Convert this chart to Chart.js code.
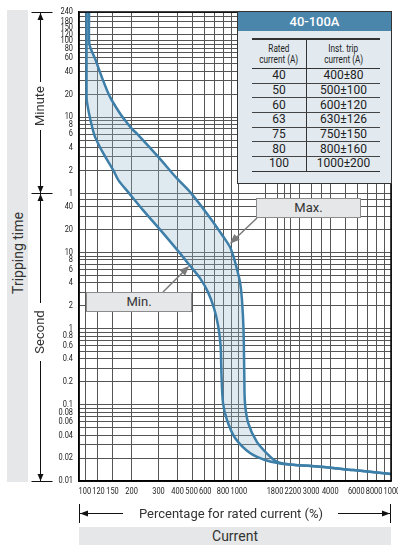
<!DOCTYPE html>
<html>
<head>
<meta charset="utf-8">
<script src="https://cdn.jsdelivr.net/npm/chart.js@4.4.1/dist/chart.umd.min.js"></script>
<style>
  html, body { margin:0; padding:0; background:#fff; }
  body { width:398px; height:545px; position:relative; overflow:hidden;
         font-family: Roboto, 'Open Sans', 'DejaVu Sans', sans-serif; color:#333; }
  #chart { position:absolute; left:0; top:0; }
  #deco { position:absolute; left:0; top:0; }
  .band { position:absolute; background:#e6e7e8; }
  .rot { position:absolute; transform:rotate(-90deg); text-align:center; white-space:nowrap; }
  .lbl { position:absolute; text-align:center; white-space:nowrap; }
  #tbox { position:absolute; left:237px; top:11px; width:155px; height:173px; box-sizing:border-box;
          background:#e2eaf0; border:1.5px solid #333; }
  #thead { position:absolute; left:0; top:0; right:0; height:19px; background:#4a86ab; color:#fff;
           font-size:13px; line-height:19px; text-align:center; font-weight:500; }
  #tt { position:absolute; left:14px; top:26px; width:128px; border-collapse:collapse; color:#222;
        font-family: Roboto, sans-serif; }
  #tt th, #tt td { padding:0; text-align:center; }
  #tt thead tr { border-top:2px solid #333; border-bottom:1.5px solid #333; }
  #tt th { font-weight:normal; font-size:10px; line-height:11px; height:28px; }
  #tt th span { display:inline-block; transform:scaleX(0.82); white-space:nowrap; }
  #tt td { font-size:12px; height:13.7px; line-height:13px; border-bottom:1px solid #444; }
  #tt tbody tr:last-child td { border-bottom:1.5px solid #333; }
  #tt .c1 { width:54px; border-right:1px solid #333; }
  .tag { position:absolute; box-sizing:border-box; background:#e6e7e8; border:1px solid #8c8c8c;
         font-size:13px; line-height:17px; text-align:center; color:#333; }
</style>
</head>
<body>
<canvas id="chart" width="398" height="545"></canvas>

<div class="band" style="left:7px;top:10px;width:21px;height:472px;"></div>
<div class="rot" style="left:-42px;top:244px;width:120px;height:18px;line-height:18px;font-size:14px;">Tripping time</div>

<svg id="deco" width="398" height="545">
  <g stroke="#111" stroke-width="1" fill="none">
    <line x1="31.5" y1="12.5" x2="52.5" y2="12.5"/>
    <line x1="31.5" y1="193.5" x2="52.5" y2="193.5"/>
    <line x1="31.5" y1="481.5" x2="52.5" y2="481.5"/>
    <line x1="40.5" y1="13" x2="40.5" y2="82"/>
    <line x1="40.5" y1="130" x2="40.5" y2="193"/>
    <line x1="40.5" y1="194" x2="40.5" y2="303"/>
    <line x1="40.5" y1="361" x2="40.5" y2="481"/>
    <line x1="79.5" y1="504" x2="79.5" y2="523"/>
    <line x1="390.5" y1="504" x2="390.5" y2="523"/>
    <line x1="80" y1="513.5" x2="123" y2="513.5"/>
    <line x1="338" y1="513.5" x2="390" y2="513.5"/>
  </g>
  <g fill="#111">
    <polygon points="40.5,13 37.5,20 43.5,20"/>
    <polygon points="40.5,193 37.5,186 43.5,186"/>
    <polygon points="40.5,194 37.5,201 43.5,201"/>
    <polygon points="40.5,481 37.5,474 43.5,474"/>
    <polygon points="80,513.5 88,510.5 88,516.5"/>
    <polygon points="390,513.5 382,510.5 382,516.5"/>
  </g>
</svg>

<div class="rot" style="left:10px;top:97px;width:60px;height:18px;line-height:18px;font-size:13px;">Minute</div>
<div class="rot" style="left:10px;top:323px;width:60px;height:18px;line-height:18px;font-size:13px;">Second</div>

<div class="lbl" style="left:120px;top:505px;width:222px;height:17px;line-height:17px;font-size:13px;">Percentage for rated current (%)</div>
<div class="band" style="left:79px;top:527px;width:312px;height:18px;"></div>
<div class="lbl" style="left:79px;top:527px;width:312px;height:18px;line-height:19px;font-size:14px;">Current</div>

<div id="tbox">
  <div id="thead">40-100A</div>
  <table id="tt">
    <thead><tr><th class="c1"><span>Rated</span><br><span>current (A)</span></th><th><span>Inst. trip</span><br><span>current (A)</span></th></tr></thead>
    <tbody id="tbody"></tbody>
  </table>
</div>

<div class="tag" id="maxTag" style="left:256px;top:198px;width:105px;height:20px;">Max.</div>
<div class="tag" id="minTag" style="left:86px;top:292px;width:106px;height:20px;">Min.</div>

<script>
// ---------------- data ----------------
// x axis: percentage of rated current (log); y axis: tripping time in seconds (log)
const xGridPercent = [100,120,150,200,300,400,500,600,700,800,900,1000,1500,1800,2000,2200,2500,3000,3500,4000,5000,6000,7000,8000,9000,10000];
const xTickLabels  = [100,120,150,200,300,400,500,600,800,1000,1800,2200,3000,4000,6000,8000,10000];

const secondGrid = [0.01,0.02,0.03,0.04,0.05,0.06,0.07,0.08,0.09,0.1,0.2,0.3,0.4,0.5,0.6,0.7,0.8,0.9,1,2,3,4,5,6,7,8,9,10,20,30,40,50];
const minuteGrid = [1,2,3,4,5,6,7,8,9,10,20,30,40,50,60,70,80,90,100,120,150,180,210,240];
const secondTickLabels = [0.01,0.02,0.04,0.06,0.08,0.1,0.2,0.4,0.6,0.8,1,2,4,6,8,10,20,40];
const minuteTickLabels = [1,2,4,6,8,10,20,40,60,80,100,120,150,180,240];

// "Max." curve (upper / right boundary)
const maxCurvePercent = [105.3,105.3,106.9,115.2,127.5,144.4,168,181,200,216,299,395,490,663,798,882,937,976,1026,1057,1082,1095,1106,1163,1320,1535,1784,2181,3428,5664,10000];
const maxCurveSeconds = [14400,6124,5006,3525,2023,1105,669,546,425,366,180,94.7,60.2,27.4,16.1,11.8,8.44,6.24,4.09,2.37,0.958,0.234,0.1046,0.0572,0.0328,0.0231,0.0179,0.01646,0.0154,0.0139,0.0124];

// "Min." curve (lower / left boundary)
const minCurvePercent = [101.4,101.4,101.7,105.3,109.6,115.2,130.6,151.8,163.8,192.4,237.6,309.4,409,483,561,633,693,736,765,776,794,843,952,1193,1496,1876,2181,3428,5664,10000];
const minCurveSeconds = [14400,1352,1000,669,470,330,200,120.6,89.2,60.2,36.0,19.7,10.12,6.69,4.61,3.02,1.86,1.115,0.609,0.246,0.1056,0.0632,0.0367,0.0233,0.0189,0.0170,0.01646,0.0154,0.0139,0.0124];

// arrow targets of the Max./Min. labels [percent, seconds]
const maxArrowTarget = [880, 13];
const minArrowTarget = [478, 6.7];

// table 40-100A
const ratedCurrentA = [40,50,60,63,75,80,100];
const instTripA     = [400,500,600,630,750,800,1000];
const instTripTolA  = [80,100,120,126,150,160,200];

// ---------------- table ----------------
const tb = document.getElementById('tbody');
ratedCurrentA.forEach((r, i) => {
  const tr = document.createElement('tr');
  const a = document.createElement('td'); a.className = 'c1'; a.textContent = String(r);
  const b = document.createElement('td'); b.textContent = instTripA[i] + '\u00b1' + instTripTolA[i];
  tr.appendChild(a); tr.appendChild(b); tb.appendChild(tr);
});

// ---------------- chart ----------------
const toPts = (xs, ys) => xs.map((x, i) => ({x: x, y: ys[i]}));
const maxPts = toPts(maxCurvePercent, maxCurveSeconds);
const minPts = toPts(minCurvePercent, minCurveSeconds);
const bandPts = maxPts.concat(minPts.slice().reverse());
const yGridSeconds = secondGrid.concat(minuteGrid.map(m => m * 60));

const lineColor = '#3d7fa8';
const labelFont = '9.5px Roboto, sans-serif';
const squeeze = 0.78;   // condensed look of the axis figures

function drawArrow(ctx, x0, y0, x1, y1) {
  const ang = Math.atan2(y1 - y0, x1 - x0), L = 10, W = 4;
  ctx.beginPath(); ctx.moveTo(x0, y0);
  ctx.lineTo(x1 - Math.cos(ang) * L * 0.7, y1 - Math.sin(ang) * L * 0.7); ctx.stroke();
  ctx.beginPath(); ctx.moveTo(x1, y1);
  ctx.lineTo(x1 - L * Math.cos(ang) + W * Math.sin(ang), y1 - L * Math.sin(ang) - W * Math.cos(ang));
  ctx.lineTo(x1 - L * Math.cos(ang) - W * Math.sin(ang), y1 - L * Math.sin(ang) + W * Math.cos(ang));
  ctx.closePath(); ctx.fill();
}

function putText(ctx, txt, px, py) {
  ctx.save(); ctx.translate(px, py); ctx.scale(squeeze, 1); ctx.fillText(txt, 0, 0); ctx.restore();
}

// push crowded horizontal labels apart so they do not overlap
function spread(items, gap) {
  for (let it = 0; it < 40; it++) {
    let moved = false;
    for (let i = 0; i < items.length - 1; i++) {
      const a = items[i], b = items[i + 1];
      const need = (a.w + b.w) / 2 + gap - (b.pos - a.pos);
      if (need > 0.05) { a.pos -= need / 2; b.pos += need / 2; moved = true; }
    }
    if (!moved) break;
  }
  return items;
}

const decorPlugin = {
  id: 'decor',
  afterDatasetsDraw(chart) {
    const {ctx, chartArea: a, scales: {x, y}} = chart;
    ctx.save();
    ctx.strokeStyle = '#000'; ctx.lineWidth = 1.5;
    ctx.strokeRect(a.left, a.top, a.right - a.left, a.bottom - a.top);
    ctx.strokeStyle = '#7a7a7a'; ctx.fillStyle = '#7a7a7a'; ctx.lineWidth = 1.5;
    drawArrow(ctx, 257, 218, x.getPixelForValue(maxArrowTarget[0]), y.getPixelForValue(maxArrowTarget[1]));
    drawArrow(ctx, 163, 292, x.getPixelForValue(minArrowTarget[0]), y.getPixelForValue(minArrowTarget[1]));
    ctx.restore();
  },
  afterDraw(chart) {
    const {ctx, chartArea: a, scales: {x, y}} = chart;
    ctx.save();
    ctx.fillStyle = '#222'; ctx.font = labelFont; ctx.textBaseline = 'middle';
    ctx.textAlign = 'center';
    const items = xTickLabels.map(v => ({txt: String(v), pos: x.getPixelForValue(v),
                                         w: ctx.measureText(String(v)).width * squeeze}));
    spread(items, 1.2).forEach(it => putText(ctx, it.txt, it.pos, a.bottom + 10.5));
    ctx.textAlign = 'right';
    secondTickLabels.forEach(v => putText(ctx, String(v), a.left - 6, y.getPixelForValue(v)));
    minuteTickLabels.forEach(m => putText(ctx, String(m), a.left - 6, y.getPixelForValue(m * 60)));
    ctx.restore();
  }
};

new Chart(document.getElementById('chart'), {
  type: 'line',
  data: {
    datasets: [
      {label: 'Max.', data: maxPts, borderColor: lineColor, borderWidth: 2.5, pointRadius: 0, tension: 0.3, fill: false},
      {label: 'Min.', data: minPts, borderColor: lineColor, borderWidth: 2.5, pointRadius: 0, tension: 0.3, fill: false},
      {label: 'band', data: bandPts, borderWidth: 0, borderColor: 'rgba(0,0,0,0)', pointRadius: 0, tension: 0.3,
       backgroundColor: 'rgba(148,182,205,0.3)', fill: 'shape'}
    ]
  },
  options: {
    responsive: false, animation: false, devicePixelRatio: 1,
    layout: {padding: {left: 0, top: 12, right: 7, bottom: 44}},
    plugins: {legend: {display: false}, tooltip: {enabled: false}},
    scales: {
      x: {
        type: 'logarithmic', min: 90.5, max: 10000, bounds: 'data',
        afterBuildTicks: s => { s.ticks = xGridPercent.map(v => ({value: v})); },
        afterFit: s => { s.height = 20; s.paddingLeft = 0; s.paddingRight = 0; },
        grid: {color: '#555', lineWidth: 1, drawTicks: false},
        border: {display: true, color: '#000', width: 1.5},
        ticks: {display: false, autoSkip: false, maxRotation: 0, minRotation: 0}
      },
      y: {
        type: 'logarithmic', min: 0.01, max: 14400, bounds: 'data',
        afterBuildTicks: s => { s.ticks = yGridSeconds.map(v => ({value: v})); },
        afterFit: s => { s.width = 79; s.paddingTop = 0; s.paddingBottom = 0; },
        grid: {color: '#555', lineWidth: 1, drawTicks: false},
        border: {display: true, color: '#000', width: 1.5},
        ticks: {display: false, autoSkip: false}
      }
    }
  },
  plugins: [decorPlugin]
});
</script>
</body>
</html>
